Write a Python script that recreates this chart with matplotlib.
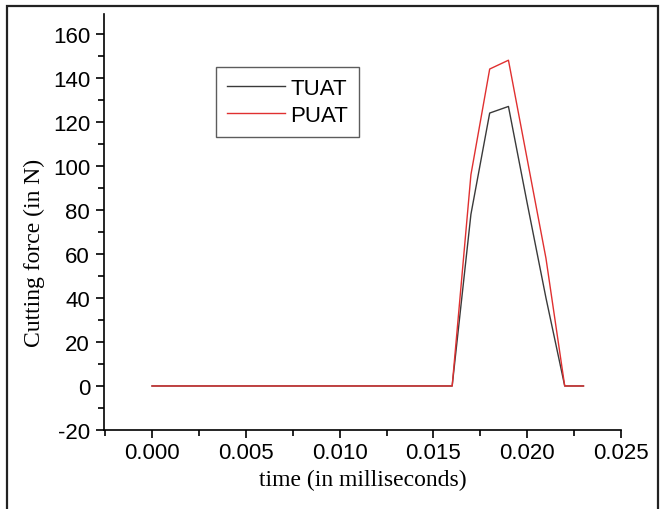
import matplotlib
matplotlib.use("Agg")
import matplotlib.pyplot as plt
from matplotlib.ticker import MultipleLocator, FormatStrFormatter
from matplotlib.patches import Rectangle

plt.rcParams["axes.unicode_minus"] = False

# time samples (ms) and cutting force (N)
time_ms = [0.000, 0.001, 0.002, 0.003, 0.004, 0.005, 0.006, 0.007, 0.008,
           0.009, 0.010, 0.011, 0.012, 0.013, 0.014, 0.015, 0.016, 0.017,
           0.018, 0.019, 0.020, 0.021, 0.022, 0.023]
force_tuat = [0, 0, 0, 0, 0, 0, 0, 0, 0, 0, 0, 0, 0, 0, 0, 0, 0,
              78, 124, 127, 83, 40, 0, 0]
force_puat = [0, 0, 0, 0, 0, 0, 0, 0, 0, 0, 0, 0, 0, 0, 0, 0, 0,
              96, 144, 148, 103, 58, 0, 0]

W, H = 662, 510
fig = plt.figure(figsize=(W / 100, H / 100), dpi=100)
ax_l, ax_r, ax_t, ax_b = 104, 621, 15, 431
ax = fig.add_axes([ax_l / W, 1 - ax_b / H, (ax_r - ax_l) / W, (ax_b - ax_t) / H])

ax.plot(time_ms, force_tuat, color="#3a3a3a", lw=1.0, label="TUAT")
ax.plot(time_ms, force_puat, color="#e03030", lw=1.0, label="PUAT")

ax.set_xlim(-0.00256, 0.025)
ax.set_ylim(-20, 169)

for s in ("top", "right"):
    ax.spines[s].set_visible(False)
for s in ("left", "bottom"):
    ax.spines[s].set_linewidth(1.2)

ax.xaxis.set_major_locator(MultipleLocator(0.005))
ax.xaxis.set_minor_locator(MultipleLocator(0.0025))
ax.xaxis.set_major_formatter(FormatStrFormatter("%.3f"))
ax.yaxis.set_major_locator(MultipleLocator(20))
ax.yaxis.set_minor_locator(MultipleLocator(10))

ax.tick_params(which="major", direction="out", length=6, width=1.2,
               labelsize=16)
ax.tick_params(axis="x", which="major", pad=3)
ax.tick_params(axis="y", which="major", pad=4)
ax.tick_params(which="minor", direction="out", length=4, width=1.2)
for lbl in ax.get_xticklabels() + ax.get_yticklabels():
    lbl.set_family("Liberation Sans")

ax.set_xlabel("time (in milliseconds)", family="Liberation Serif",
              fontsize=17, labelpad=4)
ax.set_ylabel("Cutting force (in N)", family="Liberation Serif",
              fontsize=17)
ax.yaxis.set_label_coords((45 - ax_l) / (ax_r - ax_l),
                          (ax_b - 253) / (ax_b - ax_t))

leg = ax.legend(loc="upper left",
                bbox_to_anchor=((216 - ax_l) / (ax_r - ax_l),
                                (ax_b - 68) / (ax_b - ax_t)),
                prop={"family": "Liberation Sans", "size": 16},
                frameon=True, fancybox=False, edgecolor="#333333",
                handlelength=2.6, handletextpad=0.25, borderpad=0.5,
                labelspacing=0.25, borderaxespad=0)
leg.get_frame().set_linewidth(1.0)

# outer frame around the figure
fig.patches.append(Rectangle((7 / W, -0.05), (658 - 7) / W, (503 / H) + 0.05,
                             transform=fig.transFigure, fill=False,
                             edgecolor="#222222", lw=1.6))

fig.savefig("out.png", dpi=100)
